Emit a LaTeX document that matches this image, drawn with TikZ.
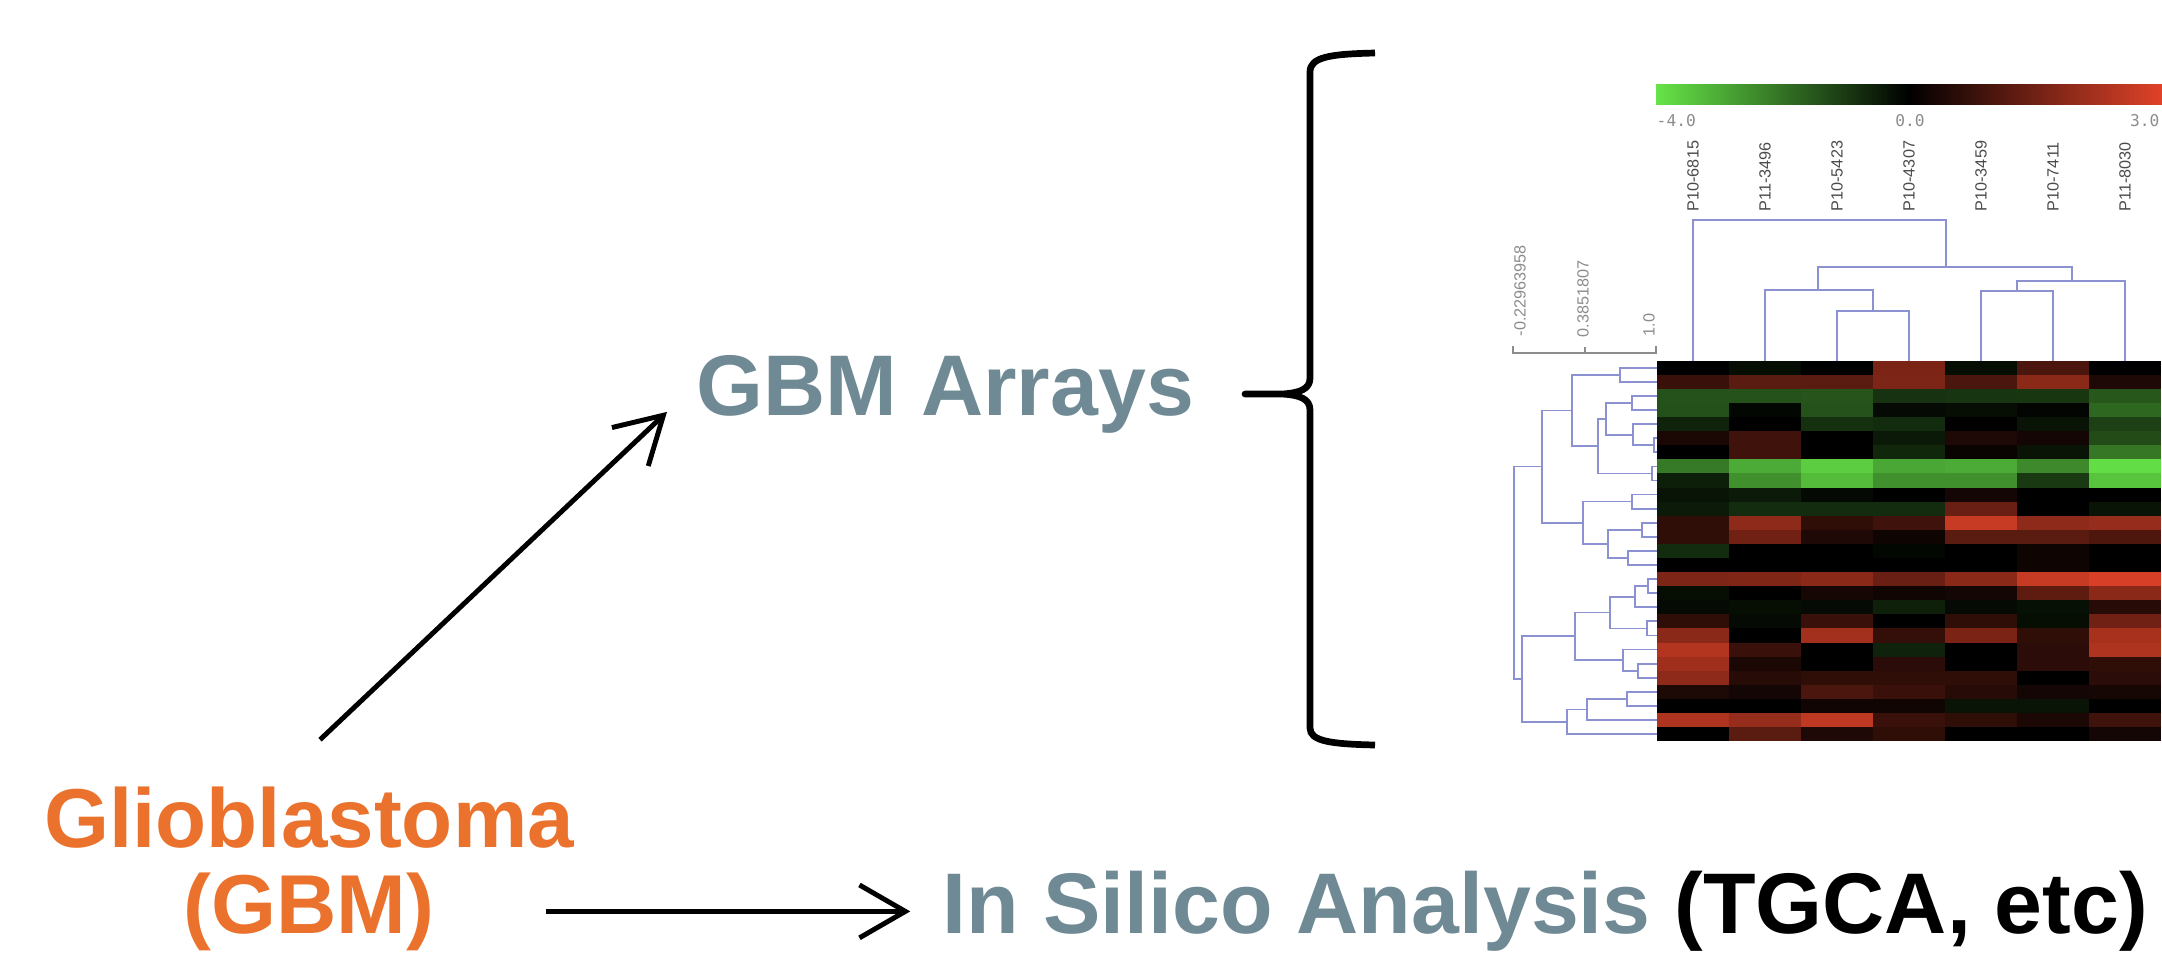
\documentclass[tikz,border=0pt]{standalone}
\usepackage{fontspec}
\setmainfont{Liberation Sans}
\newfontfamily\monof{DejaVu Sans Mono}
\usetikzlibrary{arrows.meta}
\definecolor{slate}{RGB}{111,138,148}
\definecolor{orng}{RGB}{234,114,44}
\definecolor{dendro}{RGB}{140,145,210}
\definecolor{hmgreen}{RGB}{102,228,72}
\definecolor{hmred}{RGB}{224,66,40}
\definecolor{lblgrey}{RGB}{75,75,75}
\definecolor{scgrey}{RGB}{140,140,140}
\newcommand\lbr[5]{\draw[dendrostyle] (#3,#2) -- (#1,#2) -- (#1,#4) -- (#5,#4);}
\newcommand\tbr[5]{\draw[dendrostyle] (#2,#3) -- (#2,#1) -- (#4,#1) -- (#4,#5);}
\tikzset{
  bigtext/.style={inner sep=0pt, font=\bfseries\fontsize{24.4}{29}\selectfont},
  glitext/.style={inner sep=0pt, font=\bfseries\fontsize{23.7}{29}\selectfont},
  arr/.style={line width=1.4pt, -{Straight Barb[length=13pt,width=15pt]}},
  dendrostyle/.style={draw=dendro, line width=0.5pt},
  collbl/.style={inner sep=0pt, rotate=90, anchor=west, text=lblgrey, font=\fontsize{4.6}{5}\selectfont},
  sclbl/.style={inner sep=0pt, rotate=90, anchor=west, text=scgrey, font=\fontsize{4.6}{5}\selectfont},
  barlbl/.style={inner sep=0pt, text=scgrey, font=\monof\fontsize{4.6}{5}\selectfont},
}
\begin{document}
\begin{tikzpicture}[x=0.28349pt, y=-0.28349pt]
\useasboundingbox (0,0) rectangle (2162,973);

% ---- text nodes ----
\node[bigtext, text=slate, anchor=base west] (arrays) at (696,415) {GBM Arrays};
\node[glitext, text=orng, anchor=base] (glio1) at (309,847) {Glioblastoma};
\node[glitext, text=orng, anchor=base] (glio2) at (309,933) {(GBM)};
\node[bigtext, anchor=base west] (insilico) at (942,933) {\textcolor{slate}{In Silico Analysis} (TGCA, etc)};

% ---- arrows ----
\draw[arr] ([shift={(11,-46)}]glio1.north) -- ([shift={(-29,18)}]arrays.west);
\draw[arr, shorten <=31.5pt, shorten >=9pt] (glio2.east) -- (glio2.east -| insilico.west);

% ---- brace ----
\draw[line width=1.9pt, line join=round] (1375,53) .. controls (1330,54) and (1310,57) .. (1310,72)
  -- (1310,378) .. controls (1310,389) and (1300,393) .. (1282,394) -- (1245,394)
  -- (1282,394) .. controls (1300,395) and (1310,399) .. (1310,410)
  -- (1310,728) .. controls (1310,741) and (1330,744) .. (1375,745);

% ---- colour bar ----
\shade[left color=hmgreen, right color=black] (1656,84) rectangle (1909,104);
\shade[left color=black, right color=hmred] (1908.5,84) rectangle (2162,104);
\node[barlbl, anchor=west] (bl1) at (1656,121) {-4.0};
\node[barlbl] (bl2) at (1910,121) {0.0};
\node[barlbl, anchor=east] (bl3) at (2160,121) {3.0};

% ---- column labels ----
\foreach \lab [count=\c] in {P10-6815,P11-3496,P10-5423,P10-4307,P10-3459,P10-7411,P11-8030}{
  \node[collbl] (col\c) at ({1657+(\c-0.5)*72},212) {\lab};
}

% ---- scale bar ----
\draw[scgrey, line width=0.5pt] (1513,346) -- (1513,353) -- (1656,353) -- (1656,346);
\draw[scgrey, line width=0.5pt] (1585,353) -- (1585,347);
\node[sclbl] (sc1) at (1520,337) {-0.22963958};
\node[sclbl] (sc2) at (1583,338) {0.3851807};
\node[sclbl] (sc3) at (1649,337) {1.0};

% ---- heatmap ----
\foreach \row [count=\r] in {
 {0,-6,0,55,-6,33,0},
 {26,40,40,56,33,62,14},
 {-36,-36,-37,-22,-23,-24,-38},
 {-35,-3,-36,-5,-6,-2,-45},
 {-15,0,-21,-19,0,-9,-28},
 {12,28,0,-11,14,9,-33},
 {0,28,0,-17,4,-9,-52},
 {-53,-75,-90,-73,-75,-60,-97},
 {-13,-63,-82,-63,-63,-25,-86},
 {-9,-12,-4,0,9,0,0},
 {-12,-19,-19,-19,47,0,-9},
 {21,63,21,28,89,63,67},
 {21,50,14,6,40,40,35},
 {-19,0,0,-3,0,6,0},
 {0,0,0,0,0,6,0},
 {56,57,62,47,62,89,96},
 {-6,0,10,7,9,42,62},
 {-5,-6,-5,-14,-5,-7,17},
 {21,-5,26,0,21,-6,50},
 {62,0,73,23,55,21,75},
 {80,26,0,-15,0,19,78},
 {71,12,0,19,0,19,21},
 {63,17,21,21,21,0,19},
 {13,9,33,26,17,9,10},
 {0,0,7,7,-9,-9,0},
 {78,67,85,26,21,12,28},
 {0,40,14,21,0,0,9}}{
  \foreach \v [count=\c] in \row {
    \pgfmathtruncatemacro\av{abs(\v)}
    \ifnum\v<0 \colorlet{cellc}{hmgreen!\av!black}\else\colorlet{cellc}{hmred!\av!black}\fi
    \fill[cellc] ({1657+(\c-1)*72},{360.7+(\r-1)*14.09}) rectangle ++(72.4,14.4);
  }
}

% ---- top dendrogram ----
\def\T{360.7}
\tbr{311}{1837}{\T}{1909}{\T}
\tbr{290}{1765}{\T}{1873}{311}
\tbr{291}{1981}{\T}{2053}{\T}
\tbr{281}{2017}{291}{2125}{\T}
\tbr{267}{1818}{290}{2072}{281}
\tbr{220}{1693}{\T}{1946}{267}

% ---- left dendrogram ----
\def\L{1657}
\lbr{1620}{367.75}{\L}{381.84}{\L}
\lbr{1632}{395.93}{\L}{410.02}{\L}
\lbr{1654}{438.2}{\L}{452.28}{\L}
\lbr{1633}{424.11}{\L}{445.24}{1654}
\lbr{1606}{403.0}{1632}{434.68}{1633}
\lbr{1652}{466.37}{\L}{480.46}{\L}
\lbr{1598}{418.84}{1606}{473.42}{1652}
\lbr{1572}{374.8}{1620}{446.13}{1598}
\lbr{1632}{494.55}{\L}{508.64}{\L}
\lbr{1642}{522.73}{\L}{536.82}{\L}
\lbr{1628}{550.91}{\L}{565.0}{\L}
\lbr{1608}{529.78}{1642}{557.96}{1628}
\lbr{1583}{501.6}{1632}{543.87}{1608}
\lbr{1542}{410.46}{1572}{522.73}{1583}
\lbr{1648}{579.09}{\L}{593.18}{\L}
\lbr{1635}{586.14}{1648}{607.27}{\L}
\lbr{1647}{621.35}{\L}{635.44}{\L}
\lbr{1610}{596.7}{1635}{628.4}{1647}
\lbr{1638}{663.62}{\L}{677.71}{\L}
\lbr{1623}{649.53}{\L}{670.67}{1638}
\lbr{1575}{612.55}{1610}{660.1}{1623}
\lbr{1627}{691.8}{\L}{705.89}{\L}
\lbr{1587}{698.85}{1627}{719.98}{\L}
\lbr{1567}{709.4}{1587}{734.07}{\L}
\lbr{1522}{636.3}{1575}{721.7}{1567}
\lbr{1514}{466.6}{1542}{679.0}{1522}
\end{tikzpicture}
\end{document}
